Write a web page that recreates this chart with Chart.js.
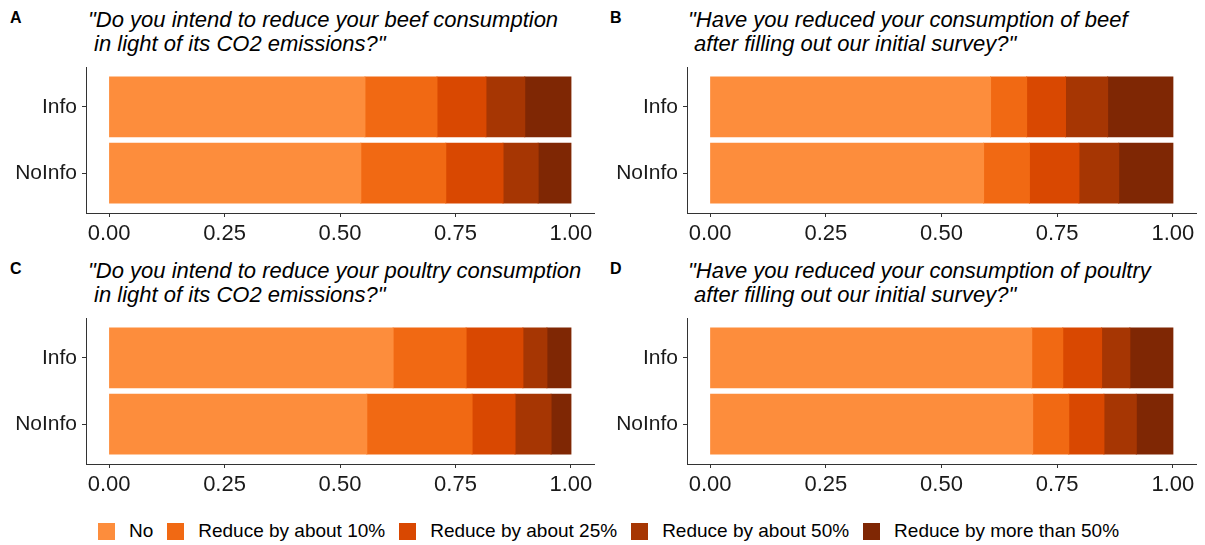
<!DOCTYPE html>
<html>
<head>
<meta charset="utf-8">
<script src="https://cdn.jsdelivr.net/npm/chart.js@4/dist/chart.umd.min.js"></script>
<style>
  body { margin: 0; background: #fff; font-family: "Liberation Sans", Arial, sans-serif; }
  #page { position: relative; width: 1205px; height: 545px; overflow: hidden; }
  .panel { position: absolute; }
  .letter { position: absolute; font-weight: bold; font-size: 16px; color: #000; }
  .title { position: absolute; font-style: italic; font-size: 22px; line-height: 24px; color: #000; white-space: pre; }
  #legend { position: absolute; left: 6px; top: 520px; width: 1205px; display: flex; justify-content: center; font-size: 19px; color: #000; }
  .item { display: flex; align-items: center; margin: 0 7px; }
  .box { width: 17px; height: 17px; margin-right: 14px; }
</style>
</head>
<body>
<div id="page">
  <div id="legend"></div>
</div>
<script>
// response levels and groups
const responses = ["No", "Reduce by about 10%", "Reduce by about 25%", "Reduce by about 50%", "Reduce by more than 50%"];
const groups = ["Info", "NoInfo"];
const xTicks = [0, 0.25, 0.5, 0.75, 1];
const colors = ["#FD8D3C", "#F16913", "#D94801", "#A63603", "#7F2704"];

// shares per response level (No, 10%, 25%, 50%, >50%)
const beefIntendInfo = [0.554, 0.156, 0.106, 0.084, 0.100];
const beefIntendNoInfo = [0.545, 0.184, 0.124, 0.076, 0.071];
const beefReducedInfo = [0.606, 0.078, 0.084, 0.091, 0.141];
const beefReducedNoInfo = [0.591, 0.099, 0.107, 0.086, 0.117];
const poultryIntendInfo = [0.615, 0.158, 0.123, 0.052, 0.052];
const poultryIntendNoInfo = [0.558, 0.228, 0.093, 0.078, 0.043];
const poultryReducedInfo = [0.695, 0.067, 0.084, 0.061, 0.093];
const poultryReducedNoInfo = [0.697, 0.078, 0.076, 0.070, 0.079];

const panels = [
  { letter: "A", title: "\"Do you intend to reduce your beef consumption\n in light of its CO2 emissions?\"",
    info: beefIntendInfo, noInfo: beefIntendNoInfo, left: 0, top: 0, width: 600, axisW: 86, padR: 6 },
  { letter: "B", title: "\"Have you reduced your consumption of beef\n after filling out our initial survey?\"",
    info: beefReducedInfo, noInfo: beefReducedNoInfo, left: 600, top: 0, width: 605, axisW: 87, padR: 9 },
  { letter: "C", title: "\"Do you intend to reduce your poultry consumption\n in light of its CO2 emissions?\"",
    info: poultryIntendInfo, noInfo: poultryIntendNoInfo, left: 0, top: 251, width: 600, axisW: 86, padR: 6 },
  { letter: "D", title: "\"Have you reduced your consumption of poultry\n after filling out our initial survey?\"",
    info: poultryReducedInfo, noInfo: poultryReducedNoInfo, left: 600, top: 251, width: 605, axisW: 87, padR: 9 },
];

const page = document.getElementById("page");
const fontFamily = "'Liberation Sans', Arial, sans-serif";

panels.forEach((p) => {
  const letter = document.createElement("div");
  letter.className = "letter";
  letter.textContent = p.letter;
  letter.style.left = p.left + 10 + "px";
  letter.style.top = p.top + 9 + "px";
  page.appendChild(letter);

  const title = document.createElement("div");
  title.className = "title";
  title.textContent = p.title;
  title.style.left = p.left + 88 + "px";
  title.style.top = p.top + 8 + "px";
  page.appendChild(title);

  const wrap = document.createElement("div");
  wrap.className = "panel";
  wrap.style.left = p.left + "px";
  wrap.style.top = p.top + 62 + "px";
  const canvas = document.createElement("canvas");
  canvas.width = p.width;
  canvas.height = 190;
  wrap.appendChild(canvas);
  page.appendChild(wrap);

  const datasets = responses.map((r, i) => ({
    label: r,
    data: [
      { x: p.info[i], y: 1 },
      { x: p.noInfo[i], y: 2 },
    ],
    backgroundColor: colors[i],
    borderWidth: 0,
    inflateAmount: 0.5,
    barPercentage: 0.9,
    categoryPercentage: 1,
  }));

  new Chart(canvas, {
    type: "bar",
    data: { datasets },
    options: {
      indexAxis: "y",
      responsive: false,
      animation: false,
      layout: { padding: { top: 5, right: p.padR, left: 0, bottom: 0 } },
      plugins: { legend: { display: false }, tooltip: { enabled: false } },
      scales: {
        x: {
          type: "linear",
          stacked: true,
          min: -0.05,
          max: 1.05,
          afterBuildTicks: (s) => { s.ticks = xTicks.map((v) => ({ value: v })); },
          afterFit: (s) => { s.height = 39; },
          ticks: { autoSkip: false, maxRotation: 0, padding: 4, color: "#1a1a1a", font: { family: fontFamily, size: 22 }, callback: (v) => Number(v).toFixed(2) },
          grid: { drawOnChartArea: false, drawTicks: true, tickLength: 4, color: "#333" },
          border: { display: true, color: "#333", width: 1 },
        },
        y: {
          type: "linear",
          stacked: true,
          reverse: true,
          offset: false,
          min: 0.4,
          max: 2.6,
          afterBuildTicks: (s) => { s.ticks = groups.map((g, i) => ({ value: i + 1 })); },
          afterFit: (s) => { s.width = p.axisW; s.paddingTop = 0; s.paddingBottom = 0; },
          ticks: { autoSkip: false, padding: 5, color: "#1a1a1a", font: { family: fontFamily, size: 21 }, callback: (v) => groups[v - 1] },
          grid: { offset: false, drawOnChartArea: false, drawTicks: true, tickLength: 4, color: "#333" },
          border: { display: true, color: "#333", width: 1 },
        },
      },
    },
  });
});

// shared legend
const legend = document.getElementById("legend");
responses.forEach((r, i) => {
  const item = document.createElement("div");
  item.className = "item";
  item.innerHTML = `<span class="box" style="background:${colors[i]}"></span><span>${r}</span>`;
  legend.appendChild(item);
});
</script>
</body>
</html>
